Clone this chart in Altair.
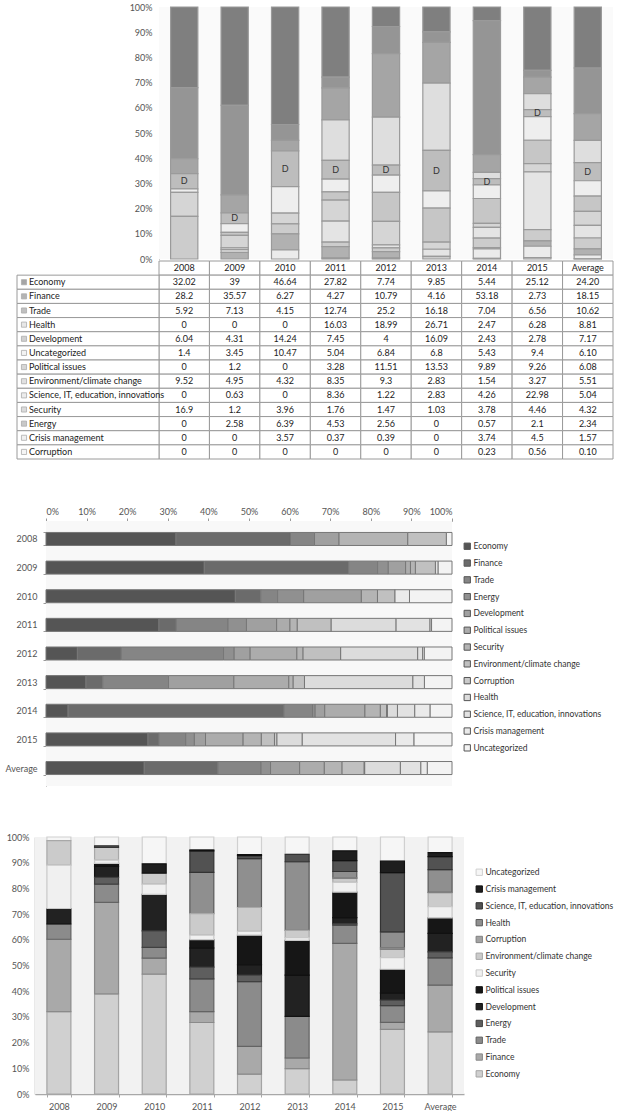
import altair as alt
import pandas as pd

FONT = "Lato"

YEARS = ["2008", "2009", "2010", "2011", "2012", "2013", "2014", "2015", "Average"]

# Topic order used by the data table (top of the stacked column first)
TABLE_ORDER = [
    "Economy", "Finance", "Trade", "Health", "Development", "Uncategorized",
    "Political issues", "Environment/climate change",
    "Science, IT, education, innovations", "Security", "Energy",
    "Crisis management", "Corruption",
]

# Topic order used by the two lower charts (first = left / bottom)
FLOW_ORDER = [
    "Economy", "Finance", "Trade", "Energy", "Development", "Political issues",
    "Security", "Environment/climate change", "Corruption", "Health",
    "Science, IT, education, innovations", "Crisis management", "Uncategorized",
]

# Share of statements per topic (%), per year and on average
economy = [32.02, 39, 46.64, 27.82, 7.74, 9.85, 5.44, 25.12, 24.20]
finance = [28.2, 35.57, 6.27, 4.27, 10.79, 4.16, 53.18, 2.73, 18.15]
trade = [5.92, 7.13, 4.15, 12.74, 25.2, 16.18, 7.04, 6.56, 10.62]
health = [0, 0, 0, 16.03, 18.99, 26.71, 2.47, 6.28, 8.81]
development = [6.04, 4.31, 14.24, 7.45, 4, 16.09, 2.43, 2.78, 7.17]
uncategorized = [1.4, 3.45, 10.47, 5.04, 6.84, 6.8, 5.43, 9.4, 6.10]
political = [0, 1.2, 0, 3.28, 11.51, 13.53, 9.89, 9.26, 6.08]
environment = [9.52, 4.95, 4.32, 8.35, 9.3, 2.83, 1.54, 3.27, 5.51]
science = [0, 0.63, 0, 8.36, 1.22, 2.83, 4.26, 22.98, 5.04]
security = [16.9, 1.2, 3.96, 1.76, 1.47, 1.03, 3.78, 4.46, 4.32]
energy = [0, 2.58, 6.39, 4.53, 2.56, 0, 0.57, 2.1, 2.34]
crisis = [0, 0, 3.57, 0.37, 0.39, 0, 3.74, 4.5, 1.57]
corruption = [0, 0, 0, 0, 0, 0, 0.23, 0.56, 0.10]

SHARES = {
    "Economy": economy, "Finance": finance, "Trade": trade, "Health": health,
    "Development": development, "Uncategorized": uncategorized,
    "Political issues": political, "Environment/climate change": environment,
    "Science, IT, education, innovations": science, "Security": security,
    "Energy": energy, "Crisis management": crisis, "Corruption": corruption,
}

# Fill palettes
TOP_COLORS = {
    "Economy": "#7f7f7f", "Finance": "#959595", "Trade": "#a5a5a5",
    "Health": "#dedede", "Development": "#bdbdbd", "Uncategorized": "#eeeeee",
    "Political issues": "#c6c6c6", "Environment/climate change": "#d5d5d5",
    "Science, IT, education, innovations": "#e4e4e4", "Security": "#cccccc",
    "Energy": "#b1b1b1", "Crisis management": "#ebebeb", "Corruption": "#f2f2f2",
}
MID_COLORS = {
    "Economy": "#555555", "Finance": "#6b6b6b", "Trade": "#858585",
    "Energy": "#909090", "Development": "#a0a0a0", "Political issues": "#acacac",
    "Security": "#b4b4b4", "Environment/climate change": "#c0c0c0",
    "Corruption": "#cacaca", "Health": "#dcdcdc",
    "Science, IT, education, innovations": "#e2e2e2",
    "Crisis management": "#eaeaea", "Uncategorized": "#f3f3f3",
}
BOT_COLORS = {
    "Economy": "#d0d0d0", "Finance": "#a9a9a9", "Trade": "#8b8b8b",
    "Energy": "#5e5e5e", "Development": "#222222", "Political issues": "#161616",
    "Security": "#f0f0f0", "Environment/climate change": "#cbcbcb",
    "Corruption": "#a3a3a3", "Health": "#8f8f8f",
    "Science, IT, education, innovations": "#525252",
    "Crisis management": "#1e1e1e", "Uncategorized": "#f6f6f6",
}
BOT_STROKES = {
    "Economy": "#a4a4a4", "Finance": "#8a8a8a", "Trade": "#636363",
    "Energy": "#404040", "Development": "#111111", "Political issues": "#111111",
    "Security": "#c8c8c8", "Environment/climate change": "#a8a8a8",
    "Corruption": "#808080", "Health": "#5a5a5a",
    "Science, IT, education, innovations": "#333333",
    "Crisis management": "#111111", "Uncategorized": "#d0d0d0",
}

records = []
for topic in TABLE_ORDER:
    for year, value in zip(YEARS, SHARES[topic]):
        records.append({
            "year": year,
            "topic": topic,
            "share": value,
            "top_rank": len(TABLE_ORDER) - 1 - TABLE_ORDER.index(topic),
            "flow_rank": FLOW_ORDER.index(topic),
            "label": f"{value:.2f}" if year == "Average" else f"{value:g}",
        })
df = pd.DataFrame(records)
bars_df = df[df["share"] > 0]

pct_ticks = [i / 10 for i in range(11)]
one_row = pd.DataFrame({"v": [0]})

PANEL_W = 612


def anchor():
    """Invisible point on the panel's left edge so every panel lines up on it."""
    return alt.Chart(one_row).mark_point(size=1, opacity=0).encode(
        x=alt.value(0), y=alt.value(0))


def backdrop(x0, x1, height, fill):
    """Plot-area background box."""
    return alt.Chart(one_row).mark_rect(fill=fill).encode(
        x=alt.value(x0), x2=alt.value(x1), y=alt.value(0), y2=alt.value(height))


# ---- Panel 1: stacked columns (x 158..612, y 0..252) with the data table below ----
TOP_H = 252
TABLE_TOP, TABLE_BOTTOM = 254, 452

top_x = alt.X("year:N", sort=YEARS, axis=None,
              scale=alt.Scale(domain=YEARS, range=[158, 612],
                              paddingInner=0.46, paddingOuter=0.23))
top_y_axis = alt.Axis(format="%", values=pct_ticks, title=None, ticks=False,
                      labelPadding=7, grid=False, domainColor="#9a9a9a",
                      labelOverlap=False, offset=-158)
top_y_scale = alt.Scale(domain=[0, 1], range=[TOP_H, 0])

top_bars = alt.Chart(bars_df).mark_bar(stroke="#9a9a9a", strokeWidth=1.2).encode(
    x=top_x,
    y=alt.Y("share:Q", stack="normalize", axis=top_y_axis, scale=top_y_scale),
    color=alt.Color("topic:N", legend=None,
                    scale=alt.Scale(domain=TABLE_ORDER,
                                    range=[TOP_COLORS[t] for t in TABLE_ORDER])),
    order=alt.Order("top_rank:Q", sort="ascending"),
)

top_marks = alt.Chart(df).transform_stack(
    stack="share", groupby=["year"], as_=["lo", "hi"], offset="normalize",
    sort=[alt.SortField("top_rank", order="ascending")],
).transform_filter(
    alt.datum.topic == "Development"
).transform_calculate(
    mid="(datum.lo + datum.hi) / 2"
).mark_text(text="D", font=FONT, fontSize=9, fill="#333333").encode(
    x=top_x,
    y=alt.Y("mid:Q", axis=top_y_axis, scale=top_y_scale),
)

columns_layer = alt.layer(backdrop(158, 612, TOP_H, "#fafafa"), top_bars, top_marks)

TABLE_ROWS = ["header"] + TABLE_ORDER
row_y = alt.Y("row:N", axis=None,
              scale=alt.Scale(domain=TABLE_ROWS, range=[TABLE_TOP, TABLE_BOTTOM],
                              paddingInner=0, paddingOuter=0))
col_x = alt.X("year:N", axis=None,
              scale=alt.Scale(domain=YEARS, range=[158, 612],
                              paddingInner=0, paddingOuter=0))

cells = df.assign(row=df["topic"])[["row", "year", "label", "topic"]]
header = pd.DataFrame({"row": "header", "year": YEARS, "label": YEARS, "topic": ""})
table_cells = pd.concat([header, cells], ignore_index=True)
row_heads = pd.DataFrame({"row": TABLE_ORDER, "topic": TABLE_ORDER})

grid = alt.Chart(table_cells).mark_rect(fill="white", stroke="#9a9a9a", strokeWidth=1).encode(
    x=col_x, y=row_y)
numbers = alt.Chart(table_cells).mark_text(font=FONT, fontSize=9, fill="#222222").encode(
    x=col_x, y=row_y, text="label:N")
head_cells = alt.Chart(row_heads).mark_rect(fill="white", stroke="#9a9a9a", strokeWidth=1).encode(
    x=alt.value(16), x2=alt.value(158), y=row_y)
head_keys = alt.Chart(row_heads).mark_point(shape="square", filled=True, size=26,
                                            stroke="#8a8a8a", strokeWidth=0.8).encode(
    x=alt.value(23), y=row_y,
    fill=alt.Fill("topic:N", legend=None,
                  scale=alt.Scale(domain=TABLE_ORDER,
                                  range=[TOP_COLORS[t] for t in TABLE_ORDER])))
head_text = alt.Chart(row_heads).mark_text(font=FONT, fontSize=9, align="left",
                                           fill="#222222").encode(
    x=alt.value(28), y=row_y, text="topic:N")

table_layer = alt.layer(grid, numbers, head_cells, head_keys, head_text, anchor())

panel_upper = alt.layer(table_layer, columns_layer).resolve_scale(
    x="independent", y="independent", color="independent", fill="independent",
).properties(width=PANEL_W, height=TABLE_BOTTOM)

# ---- Panel 2: horizontal stacked bars; plot area spans x 45..451 ----
MID_H = 265
mid_bars = alt.Chart(bars_df).mark_bar(stroke="#777777", strokeWidth=1).encode(
    y=alt.Y("year:N", sort=YEARS, title=None,
            scale=alt.Scale(domain=YEARS, paddingInner=0.545, paddingOuter=0.40),
            axis=alt.Axis(tickBand="extent", tickSize=3, labelPadding=6,
                          domainColor="#9a9a9a", tickColor="#9a9a9a", offset=-45)),
    x=alt.X("share:Q", stack="normalize", title=None,
            scale=alt.Scale(domain=[0, 1], range=[45, 451]),
            axis=alt.Axis(orient="top", format="%", values=pct_ticks, grid=False,
                          tickSize=3, labelPadding=2, domainColor="#9a9a9a",
                          tickColor="#9a9a9a", labelOverlap=False)),
    color=alt.Color("topic:N",
                    scale=alt.Scale(domain=FLOW_ORDER,
                                    range=[MID_COLORS[t] for t in FLOW_ORDER]),
                    legend=alt.Legend(orient="none", legendX=462, legendY=21,
                                      title=None, symbolType="square",
                                      symbolSize=40, symbolStrokeColor="#555555",
                                      symbolStrokeWidth=1, rowPadding=5.8,
                                      labelOffset=2, padding=0)),
    order=alt.Order("flow_rank:Q", sort="ascending"),
)
panel_mid = alt.layer(
    backdrop(45, 451, MID_H, "#f8f8f8"), mid_bars, anchor()
).properties(width=PANEL_W, height=MID_H)

# ---- Panel 3: stacked columns with contrasting shades; plot spans x 34..463 ----
BOT_H = 257
LEGEND_ORDER = FLOW_ORDER[::-1]
bot_bars = alt.Chart(bars_df).mark_bar(strokeWidth=1.2).encode(
    x=alt.X("year:N", sort=YEARS, title=None,
            scale=alt.Scale(domain=YEARS, range=[34, 463],
                            paddingInner=0.497, paddingOuter=0.25),
            axis=alt.Axis(labelAngle=0, tickBand="extent", tickSize=3, labelPadding=5,
                          domainColor="#a8a8a8", tickColor="#a8a8a8", domainWidth=1.5)),
    y=alt.Y("share:Q", stack="normalize", title=None,
            scale=alt.Scale(domain=[0, 1]),
            axis=alt.Axis(format="%", values=pct_ticks, grid=False, ticks=False,
                          labelPadding=6, domainColor="#a8a8a8", domainWidth=1.5,
                          labelOverlap=False, offset=-34)),
    color=alt.Color("topic:N",
                    scale=alt.Scale(domain=LEGEND_ORDER,
                                    range=[BOT_COLORS[t] for t in LEGEND_ORDER]),
                    legend=alt.Legend(orient="none", legendX=474, legendY=31,
                                      title=None, symbolType="square",
                                      symbolSize=40, symbolStrokeColor="#666666",
                                      symbolStrokeWidth=1, rowPadding=5.8,
                                      labelOffset=2, padding=0)),
    stroke=alt.Stroke("topic:N", legend=None,
                      scale=alt.Scale(domain=LEGEND_ORDER,
                                      range=[BOT_STROKES[t] for t in LEGEND_ORDER])),
    order=alt.Order("flow_rank:Q", sort="ascending"),
)
panel_bot = alt.layer(
    backdrop(34, 463, BOT_H, "#f2f2f2"), bot_bars, anchor()
).properties(width=PANEL_W, height=BOT_H)

chart = alt.vconcat(panel_upper, panel_mid, panel_bot, spacing=47).resolve_scale(
    color="independent", fill="independent", stroke="independent",
    x="independent", y="independent",
).resolve_legend(
    color="independent", fill="independent", stroke="independent",
).properties(
    padding={"left": 0, "top": 3, "right": 0, "bottom": 0},
    background="white",
).configure_view(
    stroke=None
).configure_axis(
    labelFont=FONT, labelFontSize=9, labelColor="#555555",
).configure_legend(
    labelFont=FONT, labelFontSize=8.5, labelColor="#333333",
)

chart.save("out.html", embed_options={"renderer": "svg", "actions": False})
